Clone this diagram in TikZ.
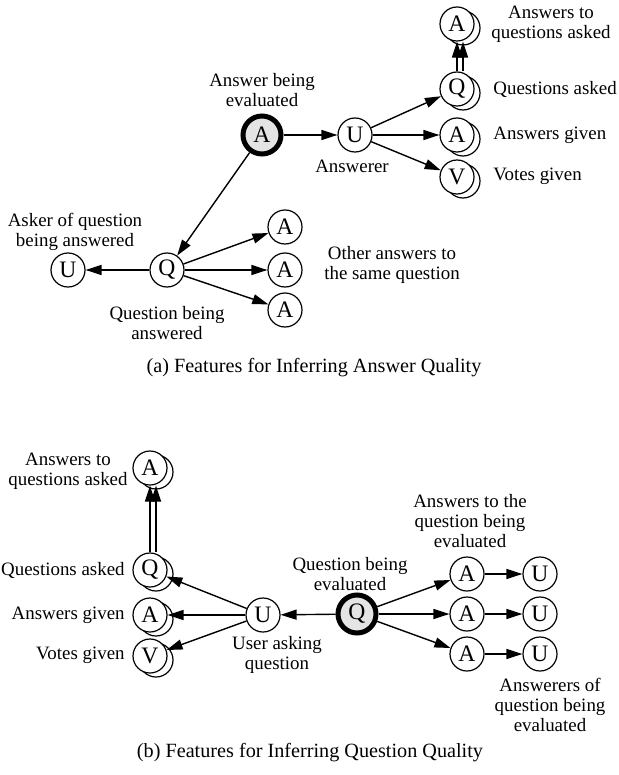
\documentclass[tikz,border=0pt]{standalone}
\usepackage{fontspec}
\setmainfont{Liberation Serif}
\usepackage{tikz}
\usetikzlibrary{arrows.meta,positioning,shadows}
\usepackage{xcolor}
\definecolor{evalgray}{HTML}{E4E4E4}
\tikzset{
  featnode/.style={
    circle,
    draw=black,
    fill=white,
    line width=0.6pt,
    minimum size=17pt,
    inner sep=0pt,
    font=\fontsize{11.8}{12}\selectfont
  },
  evalnode/.style={
    featnode,
    fill=evalgray,
    line width=2.5pt,
    minimum size=19pt
  },
  stacknode/.style={
    featnode,
    copy shadow={shadow xshift=3pt,shadow yshift=-2pt,fill=white,draw=black,line width=0.6pt}
  },
  lbl/.style={
    align=center,
    inner sep=0pt,
    font=\fontsize{9.45}{10}\selectfont
  },
  caption/.style={
    inner sep=0pt,
    font=\fontsize{10.1}{12}\selectfont
  },
  arrow/.style={
    -{Triangle[length=8pt,width=5pt]},
    line width=0.7pt
  }
}

\begin{document}
\begin{tikzpicture}[x=0.5pt,y=-0.5pt]
\useasboundingbox (0,0) rectangle (619,775);
% (a) answer quality
\node[evalnode] (aeval) at (262,135) {A};
\node[featnode] (uans) at (355,135) {U};
\node[stacknode] (aqa) at (457,24) {A};
\node[stacknode] (qasked) at (457,89) {Q};
\node[stacknode] (agiven) at (457,135) {A};
\node[stacknode] (vgiven) at (457,177) {V};
\node[featnode] (qans) at (167,270) {Q};
\node[featnode] (uask) at (68,270) {U};
\node[featnode] (aone) at (285,227) {A};
\node[featnode] (atwo) at (285,270) {A};
\node[featnode] (athree) at (285,310) {A};

\node[lbl] (laeval) at (262,90) {Answer being\\evaluated};
\node[lbl] (luans) at (352,166) {Answerer};
\node[lbl] (laqa) at (551,24) {Answers to\\questions asked};
\node[lbl, anchor=west] (lqasked) at (493,89) {Questions asked};
\node[lbl, anchor=west] (lagiven) at (493,135) {Answers given};
\node[lbl, anchor=west] (lvgiven) at (493,176) {Votes given};
\node[lbl] (luask) at (75,232) {Asker of question\\being answered};
\node[lbl] (lqans) at (167,323) {Question being\\answered};
\node[lbl] (lother) at (392,265) {Other answers to\\the same question};
\node[caption] (capa) at (314,368) {(a) Features for Inferring Answer Quality};

\draw[arrow] (aeval) -- (uans);
\draw[arrow] (uans) -- (qasked);
\draw[arrow] (uans) -- (agiven);
\draw[arrow] (uans) -- (vgiven);
\draw[arrow] (qasked) -- (aqa);
\draw[arrow] ([xshift=3pt]qasked.north) -- ([xshift=3pt]aqa.south);
\draw[arrow] (aeval) -- (qans);
\draw[arrow] (qans) -- (uask);
\draw[arrow] (qans) -- (aone);
\draw[arrow] (qans) -- (atwo);
\draw[arrow] (qans) -- (athree);

% (b) question quality
\node[stacknode] (aqab) at (150,468) {A};
\node[stacknode] (qaskedb) at (150,570) {Q};
\node[stacknode] (agivenb) at (150,615) {A};
\node[stacknode] (vgivenb) at (150,656) {V};
\node[featnode] (uq) at (263,615) {U};
\node[evalnode] (qeval) at (357,614) {Q};
\node[featnode] (aansone) at (467,574) {A};
\node[featnode] (aanstwo) at (467,614) {A};
\node[featnode] (aansthree) at (467,654) {A};
\node[featnode] (uansone) at (540,574) {U};
\node[featnode] (uanstwo) at (540,614) {U};
\node[featnode] (uansthree) at (540,654) {U};

\node[lbl] (laqab) at (68,471) {Answers to\\questions asked};
\node[lbl, anchor=east] (lqaskedb) at (125,570) {Questions asked};
\node[lbl, anchor=east] (lagivenb) at (125,615) {Answers given};
\node[lbl, anchor=east] (lvgivenb) at (125,655) {Votes given};
\node[lbl] (luq) at (277,655) {User asking\\question};
\node[lbl] (lqeval) at (350,574) {Question being\\evaluated};
\node[lbl] (lanswers) at (470,521) {Answers to the\\question being\\evaluated};
\node[lbl] (lanswerers) at (550,705) {Answerers of\\question being\\evaluated};
\node[caption] (capb) at (310,753) {(b) Features for Inferring Question Quality};

\draw[arrow] (qeval) -- (uq);
\draw[arrow] (uq) -- (qaskedb);
\draw[arrow] (uq) -- (agivenb);
\draw[arrow] (uq) -- (vgivenb);
\draw[arrow] (qaskedb) -- (aqab);
\draw[arrow] ([xshift=3pt]qaskedb.north) -- ([xshift=3pt]aqab.south);
\draw[arrow] (qeval) -- (aansone);
\draw[arrow] (qeval) -- (aanstwo);
\draw[arrow] (qeval) -- (aansthree);
\draw[arrow] (aansone) -- (uansone);
\draw[arrow] (aanstwo) -- (uanstwo);
\draw[arrow] (aansthree) -- (uansthree);
\end{tikzpicture}
\end{document}
